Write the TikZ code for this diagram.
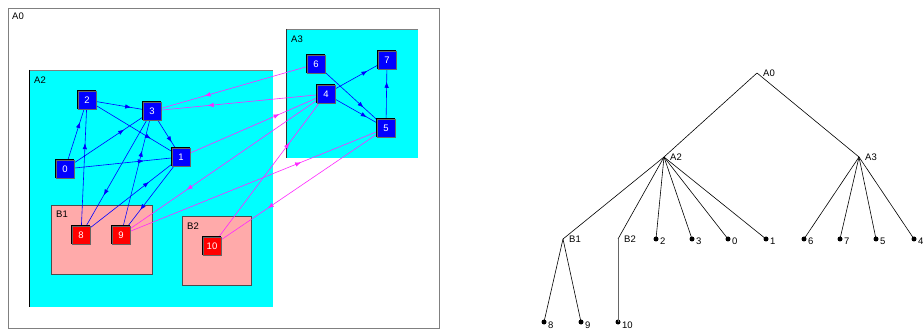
\documentclass[tikz,border=0pt]{standalone}
\usepackage{fontspec}
\setmainfont{Liberation Sans}
\usetikzlibrary{arrows.meta,decorations.markings}
\pgfdeclarelayer{clusters}
\pgfdeclarelayer{edges}
\pgfsetlayers{clusters,edges,main}
\definecolor{cyanA}{RGB}{0,255,255}
\definecolor{pinkB}{RGB}{255,170,170}
\definecolor{blueN}{RGB}{0,0,255}
\definecolor{redN}{RGB}{255,0,0}
\definecolor{magE}{RGB}{255,40,255}
\definecolor{grayB}{RGB}{128,128,128}
\tikzset{
  lbl/.style={font=\fontsize{9.5}{11}\selectfont, inner sep=0pt, anchor=base west},
  vnode/.style={minimum size=18pt, inner sep=0pt, draw=black!60, line width=0.4pt,
    text=white, font=\fontsize{9.5}{11}\selectfont},
  bnode/.style={vnode, fill=blueN},
  rnode/.style={vnode, fill=redN},
  midarrow/.style={postaction={decorate}, decoration={markings,
    mark=at position 0.68 with {\arrow{Latex[length=6pt,width=4.5pt]}}}},
  bedge/.style={draw=blueN, line width=0.6pt, midarrow},
  medge/.style={draw=magE, line width=0.6pt, midarrow},
  tedge/.style={draw=black, line width=0.6pt},
  leaf/.style={circle, fill=black, inner sep=0pt, minimum size=5pt},
  inner/.style={inner sep=0pt, minimum size=0pt},
}
\begin{document}
\begin{tikzpicture}[x=1pt,y=-1pt]
\useasboundingbox (0,0) rectangle (924,331);

% clusters
\begin{pgfonlayer}{clusters}
  \fill[white] (0,0) rectangle (924,331);
  \draw[grayB, line width=0.8pt] (8,8) rectangle (439,328);
  \fill[cyanA] (29,70) rectangle (273,307);
  \draw[grayB, line width=0.8pt] (29,70) -- (273,70);
  \draw[black, line width=0.8pt] (29,70) -- (29,307);
  \fill[cyanA] (286,29) rectangle (418,158);
  \draw[grayB, line width=0.8pt] (286,29) -- (418,29);
  \draw[black!80, line width=0.8pt] (286,29) -- (286,158);
  \filldraw[fill=pinkB, draw=black!70, line width=0.5pt] (51,205) rectangle (152,274);
  \filldraw[fill=pinkB, draw=black!70, line width=0.5pt] (182,216) rectangle (251,285);
\end{pgfonlayer}
\node[lbl] (cA0) at (12,20) {A0};
\node[lbl] (cA2) at (34,83.5) {A2};
\node[lbl] (cA3) at (291,43) {A3};
\node[lbl] (cB1) at (56,218) {B1};
\node[lbl] (cB2) at (187,230) {B2};

% nodes
\node[bnode] (n2) at (87,100) {2};
\node[bnode] (n3) at (152,111) {3};
\node[bnode] (n1) at (181,157) {1};
\node[bnode] (n0) at (65,169) {0};
\node[rnode] (n8) at (81,235) {8};
\node[rnode] (n9) at (121,235) {9};
\node[rnode] (n10) at (212,246) {10};
\node[bnode] (n6) at (316,64) {6};
\node[bnode] (n7) at (387,60) {7};
\node[bnode] (n4) at (326,94) {4};
\node[bnode] (n5) at (386,128) {5};
\foreach \n in {n0,n1,n2,n3,n4,n5,n6,n7,n8,n9,n10}
  \draw[black, line width=1.1pt] (\n.south west) -- (\n.north west) -- (\n.north east);

% edges
\begin{pgfonlayer}{edges}
  \foreach \a/\b in {n0/n2,n0/n3,n0/n1,n2/n3,n2/n1,n3/n1,n8/n2,n3/n8,n8/n1,n9/n3,n1/n9,n6/n5,n4/n7,n4/n5,n5/n7}
    \draw[bedge] (\a.center) -- (\b.center);
  \foreach \a/\b in {n6/n3,n4/n3,n1/n4,n4/n9,n9/n5,n10/n4,n5/n10}
    \draw[medge] (\a.center) -- (\b.center);
\end{pgfonlayer}

% tree
\node[inner] (tA0) at (757,73) {};
\node[inner] (tA2) at (664,157) {};
\node[inner] (tA3) at (859,157) {};
\node[inner] (tB1) at (563,239) {};
\node[inner] (tB2) at (618,239) {};
\node[leaf] (t2) at (656,239) {};
\node[leaf] (t3) at (692,239) {};
\node[leaf] (t0) at (728,239) {};
\node[leaf] (t1) at (766,239) {};
\node[leaf] (t6) at (804,239) {};
\node[leaf] (t7) at (840,239) {};
\node[leaf] (t5) at (876,239) {};
\node[leaf] (t4) at (914,239) {};
\node[leaf] (t8) at (544,322) {};
\node[leaf] (t9) at (581,322) {};
\node[leaf] (t10) at (618,322) {};

\foreach \a/\b in {tA0/tA2,tA0/tA3,tA2/tB1,tA2/tB2,tA2/t2,tA2/t3,tA2/t0,tA2/t1,tA3/t6,tA3/t7,tA3/t5,tA3/t4,tB1/t8,tB1/t9}
  \draw[tedge] (\a.center) -- (\b.center);
\draw[tedge, draw=black!60] (tB2.center) -- (t10.center);

\foreach \n/\t in {tA0/A0,tA2/A2,tA3/A3,tB1/B1,tB2/B2}
  \node[lbl] (l\n) at ([xshift=6pt,yshift=-4pt]\n.center) {\t};
\foreach \n/\t in {t2/2,t3/3,t0/0,t1/1,t6/6,t7/7,t5/5,t4/4,t8/8,t9/9,t10/10}
  \node[lbl] (l\n) at ([xshift=4pt,yshift=-6pt]\n.center) {\t};
\end{tikzpicture}
\end{document}
